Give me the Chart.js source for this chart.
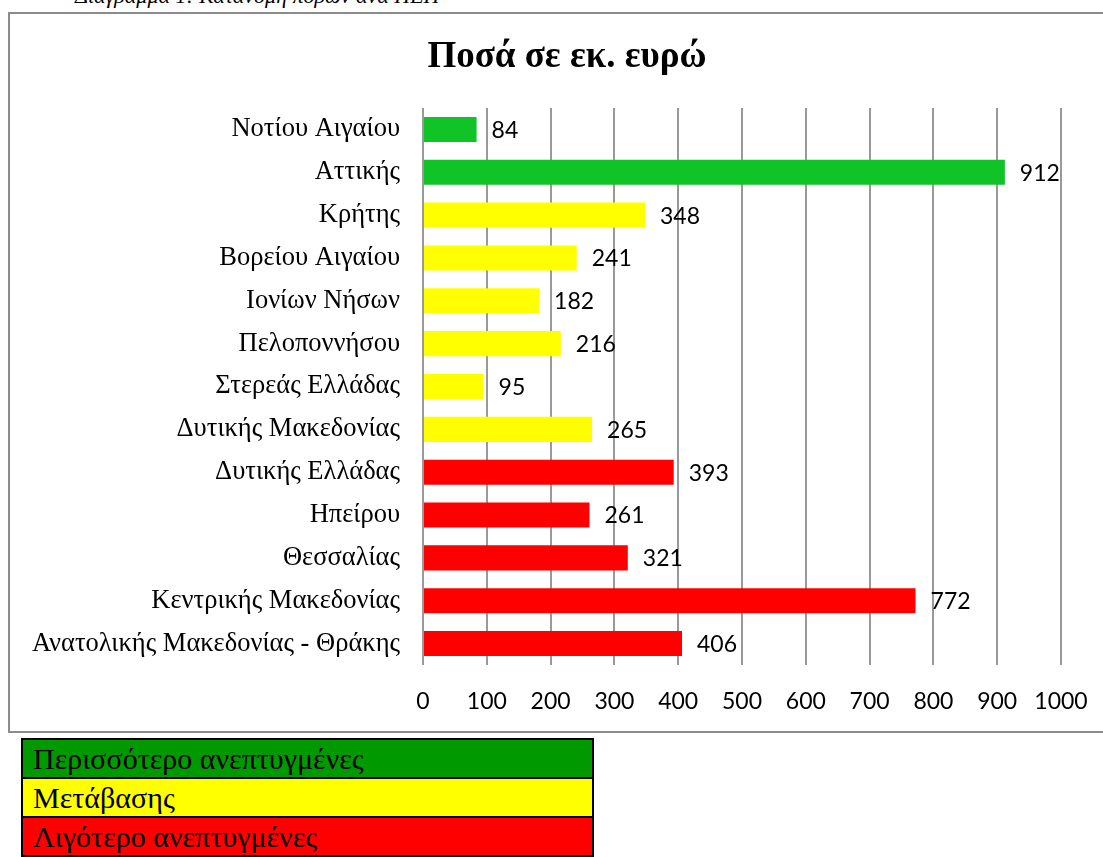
<!DOCTYPE html>
<html><head><meta charset="utf-8">
<script src="https://cdn.jsdelivr.net/npm/chart.js@4/dist/chart.umd.min.js"></script>
<style>
html,body{margin:0;padding:0;background:#fff;overflow:hidden;width:1103px;height:857px;}
#cap{position:absolute;left:75px;top:-17px;font:italic 22px "Liberation Serif",serif;color:#000;white-space:nowrap;}
#frame{position:absolute;left:8px;top:12px;width:1200px;height:721px;border:2px solid #8c8c8c;box-sizing:border-box;}
#wrap{position:absolute;left:0;top:0;width:1103px;height:735px;}
table{position:absolute;left:21px;top:738px;width:573px;border-collapse:collapse;font:30px "Liberation Serif",serif;}
td{border:2px solid #000;height:37px;padding:0 0 0 10px;line-height:37px;color:#000;}
</style></head><body>
<div id="cap">Διάγραμμα 1: Κατανομή πόρων ανά ΠΕΠ</div>
<div id="frame"></div>
<div id="wrap"><canvas id="c" width="1103" height="735"></canvas></div>
<table id="leg"></table>
<script>
const chartTitle = "Ποσά σε εκ. ευρώ";
const categories = ["Νοτίου Αιγαίου","Αττικής","Κρήτης","Βορείου Αιγαίου","Ιονίων Νήσων","Πελοποννήσου","Στερεάς Ελλάδας","Δυτικής Μακεδονίας","Δυτικής Ελλάδας","Ηπείρου","Θεσσαλίας","Κεντρικής Μακεδονίας","Ανατολικής Μακεδονίας - Θράκης"];
const values = [84,912,348,241,182,216,95,265,393,261,321,772,406];
const groups = [0,0,1,1,1,1,1,1,2,2,2,2,2];
const groupNames = ["Περισσότερο ανεπτυγμένες","Μετάβασης","Λιγότερο ανεπτυγμένες"];
const barColors = ["#10c327","#ffff00","#ff0000"];
const legendColors = ["#009900","#ffff00","#ff0000"];
const xTicks = [0,100,200,300,400,500,600,700,800,900,1000];

const leg = document.getElementById('leg');
groupNames.forEach((n,i)=>{
  const tr=document.createElement('tr');
  const td=document.createElement('td');
  td.textContent=n; td.style.background=legendColors[i];
  tr.appendChild(td); leg.appendChild(tr);
});

const valueLabels = {
  id:'valueLabels',
  afterDatasetsDraw(chart){
    const ctx=chart.ctx;
    const meta=chart.getDatasetMeta(0);
    ctx.save();
    ctx.font='23px Lato, "Liberation Sans", sans-serif';
    ctx.fillStyle='#000';
    ctx.textAlign='left';
    ctx.textBaseline='middle';
    meta.data.forEach((bar,i)=>{
      ctx.fillText(String(values[i]), bar.x+15, bar.y+1);
    });
    ctx.restore();
  }
};
const titleDraw = {
  id:'titleDraw',
  afterDraw(chart){
    const ctx=chart.ctx;
    ctx.save();
    ctx.font='bold 37px "Liberation Serif", serif';
    ctx.fillStyle='#000';
    ctx.textAlign='center';
    ctx.textBaseline='middle';
    ctx.fillText(chartTitle, 567, 57);
    ctx.restore();
  }
};

new Chart(document.getElementById('c'),{
  type:'bar',
  data:{labels:categories,datasets:[{data:values,backgroundColor:groups.map(g=>barColors[g]),borderWidth:0,barPercentage:0.585,categoryPercentage:1}]},
  options:{
    indexAxis:'y',responsive:false,animation:false,
    layout:{padding:{left:0,right:42,top:108,bottom:0}},
    plugins:{legend:{display:false},tooltip:{enabled:false},title:{display:false}},
    scales:{
      x:{min:0,max:1000,afterFit(s){s.height=70;s.paddingLeft=0;s.paddingRight=0;},
        afterBuildTicks(s){s.ticks=xTicks.map(v=>({value:v}));},
        grid:{color:'#999',lineWidth:2,drawTicks:false},border:{display:false},
        ticks:{color:'#000',padding:23,font:{family:'Lato, "Liberation Sans", sans-serif',size:23},maxRotation:0,autoSkip:false,callback:(v)=>String(v)}},
      y:{afterFit(s){s.width=423;s.paddingTop=0;s.paddingBottom=0;},
        grid:{display:false},border:{display:false},
        ticks:{color:'#000',padding:15,font:{family:'"Liberation Serif", serif',size:26.5},autoSkip:false}}
    }
  },
  plugins:[valueLabels,titleDraw]
});
</script>
</body></html>
